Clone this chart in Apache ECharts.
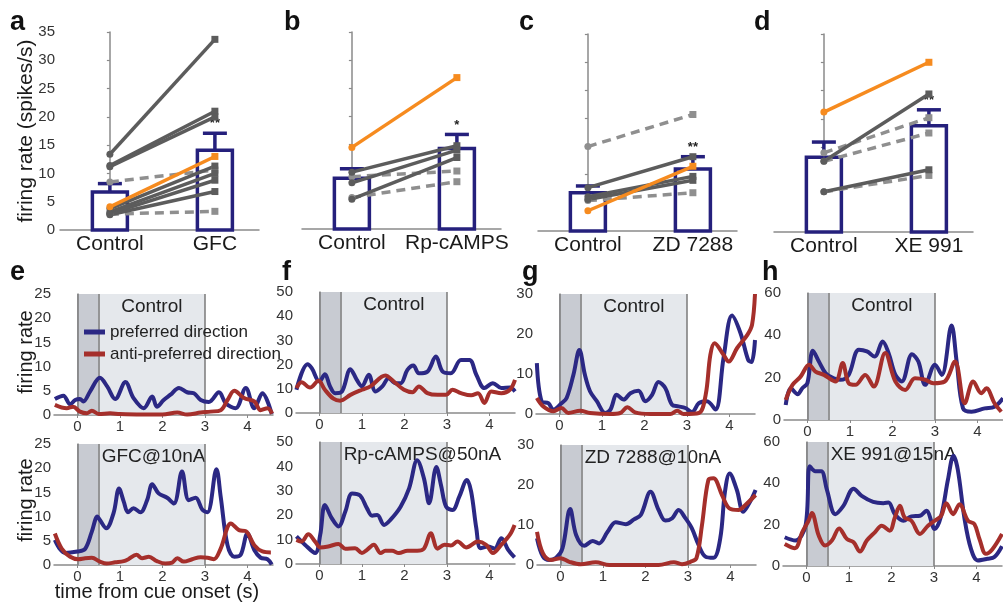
<!DOCTYPE html>
<html><head><meta charset="utf-8">
<script src="https://cdn.jsdelivr.net/npm/echarts@6/dist/echarts.min.js"></script>
<style>html,body{margin:0;padding:0;background:#fff}#c{width:1003px;height:603px}</style>
</head><body><div id="c"></div>
<script>
// ---------- DATA: panels a-d (firing rate, spikes/s) ----------
const barCategories = [['Control','GFC'],['Control','Rp-cAMPS'],['Control','ZD 7288'],['Control','XE 991']];
const barMeans = [[6.7,14.1],[9.0,14.3],[6.8,11.0],[13.2,18.8]];
const barErrTops = [[8.2,17.1],[10.7,16.8],[8.0,13.2],[15.9,21.6]];
const barStars = ['**','*','**','**'];
const solidPairs = [
  [[13.4,33.7],[11.4,21.0],[11.2,20.0],[3.8,11.3],[3.2,10.0],[2.9,8.8],[2.7,6.8]],
  [[10.1,14.8],[8.2,14.0],[5.3,12.7]],
  [[7.7,13.2],[6.1,9.7],[5.6,9.0]],
  [[12.5,24.4],[7.1,11.0]]
];
const dashedPairs = [
  [[8.5,10.6],[2.8,3.3]],
  [[9.3,10.3],[5.6,8.4]],
  [[15.0,20.7],[5.4,6.8]],
  [[14.0,20.2],[12.5,17.5],[7.1,10.0]]
];
const orangePairs = [[4.1,13.0],[14.5,26.9],[3.6,11.5],[21.2,30.0]];

// ---------- DATA: panels e-h (time from cue onset [s], firing rate) ----------
const timeTicks = [0,1,2,3,4];
const tYMax = [25,50,30,60,25,50,30,60];
const tYStep = [5,10,10,20,5,10,10,20];
const tLabels = ['Control','Control','Control','Control','GFC@10nA','Rp-cAMPS@50nA','ZD 7288@10nA','XE 991@15nA'];

const eCtrlPref = [[-0.53,3.3],[-0.33,4.0],[-0.17,2.2],[-0.05,3.1],[0.06,3.3],[0.14,2.8],[0.3,4.9],[0.53,7.7],[0.7,5.9],[0.89,3.3],[1.13,6.8],[1.32,3.5],[1.56,1.4],[1.76,3.8],[1.87,1.7],[2.03,3.1],[2.19,4.2],[2.39,5.6],[2.58,4.7],[2.74,4.5],[2.9,3.1],[3.09,2.7],[3.33,4.7],[3.49,2.4],[3.72,1.4],[3.96,5.6],[4.16,1.4],[4.35,4.5],[4.57,0.2]];
const eCtrlAnti = [[-0.53,2.1],[-0.25,1.4],[-0.1,1.7],[0.06,0.7],[0.22,0.35],[0.34,0.9],[0.5,0.2],[0.77,0.35],[1.0,0.2],[1.5,0.1],[2.0,0.1],[2.35,0.5],[2.58,0.1],[2.9,0.5],[3.13,0.7],[3.37,1.0],[3.53,3.1],[3.69,5.0],[3.92,3.5],[4.16,2.8],[4.31,1.0],[4.47,1.4],[4.58,0.3]];
const fCtrlPref = [[-0.54,9.6],[-0.28,20.1],[-0.18,18.5],[0,13],[0.13,16],[0.25,11],[0.37,8.2],[0.53,8.9],[0.73,18.1],[0.88,13.7],[1.0,11],[1.16,15.8],[1.32,8.9],[1.48,11],[1.63,14.4],[1.79,12.3],[1.91,12.3],[2.07,17.8],[2.21,19.6],[2.34,16.4],[2.54,17.1],[2.74,23.3],[2.9,17.1],[3.09,16.4],[3.33,21.9],[3.53,21.9],[3.69,15.8],[3.88,10.3],[4.08,12.3],[4.28,10.3],[4.48,10.5],[4.6,8.9]];
const fCtrlAnti = [[-0.54,10.3],[-0.42,12.7],[-0.22,10.5],[-0.02,13.3],[0.13,9.6],[0.33,5.9],[0.49,5.1],[0.73,7.5],[1.0,9.6],[1.2,11],[1.55,15.5],[1.75,13],[1.99,9.6],[2.19,8.6],[2.34,11],[2.54,8.2],[2.78,7.5],[2.98,7.5],[3.13,9.6],[3.33,8.2],[3.57,7.3],[3.73,8.2],[3.88,4.1],[4.04,8.9],[4.28,8.2],[4.48,9.6],[4.6,13.7]];
const gCtrlPref = [[-0.53,12.7],[-0.42,3.2],[-0.26,2.7],[-0.14,1.1],[0.05,2.7],[0.17,4],[0.33,9.8],[0.47,16],[0.6,9.8],[0.72,5.7],[0.88,3.2],[1.08,0.25],[1.2,1.1],[1.35,4.8],[1.51,3.6],[1.67,5.2],[1.86,5.8],[2.02,3.2],[2.18,4.8],[2.33,8],[2.49,6.5],[2.65,2.3],[2.8,1.9],[2.96,1.5],[3.12,0.5],[3.28,2.7],[3.47,3.2],[3.67,1.1],[3.86,14],[4.06,24.6],[4.26,20.2],[4.44,13.5],[4.52,13],[4.6,18.5]];
const gCtrlAnti = [[-0.53,4],[-0.38,1.9],[-0.14,0.7],[0.05,1.5],[0.21,0.25],[0.49,0.8],[0.72,0.25],[1.2,0],[1.43,0.25],[1.6,1.7],[1.78,0.4],[2.14,0],[2.61,0],[2.77,0.8],[2.92,0],[3.28,0.25],[3.44,4.8],[3.55,14.8],[3.65,17.7],[3.86,14.8],[3.98,13.1],[4.18,16.5],[4.42,19.8],[4.53,22.3],[4.6,30]];
const hCtrlPref = [[-0.51,7.1],[-0.39,15],[-0.23,12.2],[-0.12,15],[0,17.4],[0.13,32.7],[0.27,27.6],[0.43,22.1],[0.62,19.7],[0.78,19],[0.97,21.3],[1.21,33.2],[1.4,32.4],[1.58,30],[1.77,37.1],[1.91,31.6],[2.07,21.3],[2.22,18.2],[2.46,31.1],[2.61,27.6],[2.77,16.6],[3.0,26.1],[3.16,21.3],[3.39,44.7],[3.51,27.6],[3.66,5.5],[3.86,3.9],[4.17,5.5],[4.4,6.3],[4.6,10.3]];
const hCtrlAnti = [[-0.51,9.5],[-0.35,16.6],[-0.16,20.5],[0.04,26.1],[0.19,22.9],[0.39,21.3],[0.66,18.2],[0.83,26.9],[0.97,17.4],[1.13,16.6],[1.36,21.3],[1.56,15.8],[1.83,31.6],[2.07,18.2],[2.3,14.2],[2.53,19.7],[2.77,19],[2.96,17.4],[3.23,18.2],[3.47,27.6],[3.7,7.9],[3.9,18.2],[4.09,12.6],[4.21,15],[4.4,7.9],[4.56,3.9]];

const eDrugPref = [[-0.53,5.2],[-0.41,3.3],[-0.29,2.5],[0,2.8],[0.18,3.3],[0.34,6.9],[0.47,10.0],[0.53,9.3],[0.68,7.6],[0.85,10.7],[0.98,15.8],[1.09,13.1],[1.19,10.9],[1.32,11.7],[1.48,10.9],[1.64,13.4],[1.76,16.7],[1.91,14.8],[2.11,13.9],[2.27,12.7],[2.46,19.3],[2.62,13.4],[2.78,13.9],[2.94,11.4],[3.06,10.9],[3.27,19.8],[3.37,14.1],[3.53,4.1],[3.69,1.7],[3.84,2.1],[4.0,6.5],[4.16,3.1],[4.31,1.5],[4.47,1.2],[4.57,0.1]];
const eDrugAnti = [[-0.53,6.5],[-0.37,3.4],[-0.17,1.7],[0.02,1.2],[0.18,1.4],[0.34,1.5],[0.53,0.7],[0.69,0.3],[0.89,0.55],[1.09,0.8],[1.2,1.2],[1.39,2.1],[1.52,1.4],[1.68,1.7],[1.87,0.8],[2.07,0.3],[2.23,0.5],[2.35,1.4],[2.5,0.7],[2.7,1.2],[2.9,1.6],[3.06,1.5],[3.21,1.2],[3.37,3.4],[3.61,8.6],[3.8,7.2],[3.96,7.0],[4.16,4.1],[4.35,2.8],[4.55,2.6]];
const fDrugPref = [[-0.54,11.3],[-0.34,7.9],[-0.1,4.5],[0.02,12],[0.13,24.2],[0.29,18.8],[0.45,15.4],[0.61,21.5],[0.77,28.9],[0.96,28],[1.12,22.8],[1.24,19.8],[1.36,20.1],[1.52,16],[1.67,18.1],[1.91,23.5],[2.11,31],[2.3,42.5],[2.46,35],[2.58,24.9],[2.75,39.8],[2.86,32.3],[2.98,23.5],[3.13,22.1],[3.29,27.6],[3.47,34.4],[3.57,29.6],[3.69,14.7],[3.79,6.5],[3.96,7.2],[4.12,6.3],[4.28,10.6],[4.44,5.8],[4.59,2.7]];
const fDrugAnti = [[-0.54,9.9],[-0.42,9.2],[-0.26,12.2],[-0.1,9.2],[0.02,6.8],[0.21,7.2],[0.45,8.2],[0.61,6.3],[0.84,6.5],[1.0,4.5],[1.12,5.8],[1.28,7.9],[1.44,4.5],[1.55,5.4],[1.71,5.4],[1.87,4.5],[2.07,5.4],[2.3,5.4],[2.46,6.3],[2.62,12.6],[2.78,6.3],[2.94,7.9],[3.09,7.6],[3.25,9.2],[3.45,6.8],[3.73,9.2],[3.92,7.9],[4.08,4.5],[4.28,7.9],[4.48,12],[4.59,16]];
const gDrugPref = [[-0.55,6.7],[-0.41,2.1],[-0.26,1.25],[-0.1,1.8],[0.05,4.2],[0.23,14],[0.37,7.5],[0.56,4.8],[0.76,6],[0.91,5.4],[1.11,8.3],[1.3,10.7],[1.54,10.2],[1.73,11.4],[1.89,12.5],[2.12,18.3],[2.31,13.75],[2.47,11.1],[2.63,11.7],[2.78,13.75],[2.94,11.7],[3.09,9.2],[3.25,5],[3.41,2.1],[3.6,1.8],[3.76,6.7],[3.87,18.3],[3.98,22.9],[4.15,18.75],[4.3,13.3],[4.46,15.8],[4.59,18.75]];
const gDrugAnti = [[-0.55,8.3],[-0.41,2.9],[-0.22,1.25],[0,1.7],[0.21,0.8],[0.48,0.2],[0.83,0.7],[1.15,0],[2.31,0],[2.67,0.7],[2.86,0.2],[3.06,0.8],[3.2,1.7],[3.33,10],[3.48,21.25],[3.6,21.7],[3.8,17.5],[3.97,14.2],[4.19,13.75],[4.35,15],[4.59,17.5]];
const hDrugPref = [[-0.51,13.9],[-0.26,12.3],[-0.02,19.5],[0.08,48.3],[0.21,45.9],[0.35,45.9],[0.48,37.1],[0.68,25.1],[0.87,29.1],[1.11,37.4],[1.3,33.9],[1.57,31],[1.81,30.4],[1.93,30.7],[2.08,25.1],[2.28,21.9],[2.47,24],[2.67,24.3],[2.82,26.7],[3.02,17.9],[3.17,24.3],[3.33,41.9],[3.46,53.4],[3.56,46.7],[3.72,22.7],[3.87,8.3],[4.03,2.7],[4.26,3.5],[4.42,4.3],[4.6,9.6]];
const hDrugAnti = [[-0.51,10.7],[-0.27,8.6],[-0.1,16.3],[0.05,21.9],[0.13,25.6],[0.29,14.7],[0.44,9.9],[0.6,12.3],[0.77,18.2],[0.95,13.1],[1.11,11.5],[1.26,7],[1.42,12.3],[1.61,16.3],[1.77,19.5],[1.96,17.1],[2.08,23.5],[2.2,29.1],[2.31,23.5],[2.47,21.9],[2.67,15.5],[2.86,19.5],[3.02,21.9],[3.17,24.3],[3.29,30.4],[3.45,25.1],[3.6,29.9],[3.8,21.9],[3.95,20.3],[4.07,13.1],[4.22,5.9],[4.37,8],[4.6,15.5]];

const prefCurves = [eCtrlPref,fCtrlPref,gCtrlPref,hCtrlPref,eDrugPref,fDrugPref,gDrugPref,hDrugPref];
const antiCurves = [eCtrlAnti,fCtrlAnti,gCtrlAnti,hCtrlAnti,eDrugAnti,fDrugAnti,gDrugAnti,hDrugAnti];

// ---------- STYLE / LAYOUT ----------
const FONT = '"Liberation Sans", Arial, sans-serif';
const NAVY = '#25207c', BLUE = '#2b2884', RED = '#a52f2b';
const GSOLID = '#5c5c5c', GDASH = '#8f8f8f', ORANGE = '#f68b1f';
const AXIS = '#8a8a8a', DARK_BAND = '#c8cbd2', LIGHT_BAND = '#e5e8ec', VLINE = '#7a7a7a';
const topLayout = [
  {left:60, top:32, width:199, height:198},
  {left:302, top:32, width:199, height:197},
  {left:538, top:34, width:199, height:197},
  {left:774, top:34, width:199, height:198}
];
const tLayout = [
  {left:54, top:294, height:121},
  {left:296, top:292, height:121},
  {left:536, top:294, height:120},
  {left:784, top:293, height:127},
  {left:54, top:444, height:121},
  {left:296, top:442, height:122},
  {left:537, top:445, height:120},
  {left:783, top:442, height:124}
];

const grids = [], xAxes = [], yAxes = [], series = [];

topLayout.forEach((L, i) => {
  grids.push({left:L.left, top:L.top, width:L.width, height:L.height, outerBoundsMode:'none'});
  xAxes.push({type:'value', gridIndex:i, min:-0.475, max:1.42,
    axisLine:{show:true, onZero:false, lineStyle:{color:AXIS, width:1.5}},
    axisTick:{show:false}, splitLine:{show:false},
    axisLabel:{customValues:[0,1], formatter:v => barCategories[i][Math.round(v)], fontSize:21, color:'#1a1a1a', margin:4, fontFamily:FONT}});
  yAxes.push({type:'value', gridIndex:i, min:0, max:35, interval:5,
    axisLine:{show:true, lineStyle:{color:AXIS, width:1.5}},
    axisTick:{show:true, length:3, lineStyle:{color:AXIS, width:1.2}}, splitLine:{show:false},
    axisLabel:{show:i === 0, fontSize:15, color:'#333', margin:5, fontFamily:FONT}});
  const star = barStars[i];
  series.push({type:'custom', xAxisIndex:i, yAxisIndex:i, z:2, silent:true,
    data: barMeans[i].map((m, k) => [k, m, barErrTops[i][k]]),
    renderItem: (params, api) => {
      const x = api.value(0), m = api.value(1), e = api.value(2);
      const p0 = api.coord([x, 0]), pm = api.coord([x, m]), pe = api.coord([x, e]);
      const w = 35;
      const ch = [
        {type:'rect', shape:{x:pm[0]-w/2, y:pm[1], width:w, height:p0[1]-pm[1]}, style:{fill:'#fff', stroke:NAVY, lineWidth:3.5}},
        {type:'line', shape:{x1:pm[0], y1:pm[1], x2:pe[0], y2:pe[1]}, style:{stroke:NAVY, lineWidth:3.5}},
        {type:'line', shape:{x1:pe[0]-12, y1:pe[1], x2:pe[0]+12, y2:pe[1]}, style:{stroke:NAVY, lineWidth:3.5}}
      ];
      if (params.dataIndex === 1) {
        ch.push({type:'text', style:{text:star, x:pe[0], y:pe[1]-3, align:'center', verticalAlign:'bottom', textAlign:'center', textVerticalAlign:'bottom', font:'bold 13px ' + FONT, fill:'#222'}});
      }
      return {type:'group', children:ch};
    }});
  const pairSeries = (pair, color, dashed) => ({
    type:'line', xAxisIndex:i, yAxisIndex:i, z:3, silent:true, color:color,
    symbolSize:7, showSymbol:true,
    lineStyle:{color:color, width:3.5, type: dashed ? [9,6] : 'solid'},
    itemStyle:{color:color},
    data:[{value:[0, pair[0]], symbol:'circle'}, {value:[1, pair[1]], symbol:'rect'}]
  });
  dashedPairs[i].forEach(p => series.push(pairSeries(p, GDASH, true)));
  solidPairs[i].forEach(p => series.push(pairSeries(p, GSOLID, false)));
  series.push(pairSeries(orangePairs[i], ORANGE, false));
});

tLayout.forEach((L, j) => {
  const k = 4 + j;
  grids.push({left:L.left, top:L.top, width:219, height:L.height, outerBoundsMode:'none'});
  xAxes.push({type:'value', gridIndex:k, min:-0.55, max:4.6,
    axisLine:{show:true, onZero:false, lineStyle:{color:AXIS, width:1.5}},
    axisTick:{show:true, customValues:timeTicks, length:3, lineStyle:{color:AXIS}},
    splitLine:{show:false},
    axisLabel:{customValues:timeTicks, fontSize:15, color:'#333', margin:4, fontFamily:FONT}});
  yAxes.push({type:'value', gridIndex:k, min:0, max:tYMax[j], interval:tYStep[j],
    axisLine:{show:true, lineStyle:{color:AXIS, width:1.5}},
    axisTick:{show:false}, splitLine:{show:false},
    axisLabel:{fontSize:15, color:'#333', margin:3, fontFamily:FONT}});
  const isTop = j < 4;
  series.push({type:'line', xAxisIndex:k, yAxisIndex:k, z:1, silent:true, data:[[0,0]], showSymbol:false,
    lineStyle:{width:0, opacity:0},
    markArea:{silent:true, z:1, data:[
      [{xAxis:0, itemStyle:{color:DARK_BAND}}, {xAxis:0.5}],
      [{xAxis:0.5, name:tLabels[j], itemStyle:{color:LIGHT_BAND},
        label:{show:true, position: isTop ? 'insideTop' : 'insideTopLeft', distance:3, fontSize:19, color:'#222', fontFamily:FONT}}, {xAxis:3}]
    ]},
    markLine:{silent:true, z:2, symbol:'none', label:{show:false}, lineStyle:{color:VLINE, width:1.5, type:'solid'},
      data:[{xAxis:0},{xAxis:0.5},{xAxis:3}]}
  });
  series.push({type:'line', name:'preferred direction', xAxisIndex:k, yAxisIndex:k, z:3, silent:true,
    color:BLUE, smooth:0.35, showSymbol:false, symbol:'none',
    lineStyle:{color:BLUE, width:4}, itemStyle:{color:BLUE}, data:prefCurves[j]});
  series.push({type:'line', name:'anti-preferred direction', xAxisIndex:k, yAxisIndex:k, z:4, silent:true,
    color:RED, smooth:0.35, showSymbol:false, symbol:'none',
    lineStyle:{color:RED, width:4}, itemStyle:{color:RED}, data:antiCurves[j]});
});

const txt = (t, x, y, font, opts) => Object.assign({type:'text', x:x, y:y, silent:true, z:100,
  style:{text:t, font:font, fill:'#111', align:'left', verticalAlign:'middle', textAlign:'left', textVerticalAlign:'middle'}}, opts || {});
const vtxt = (t, x, y, size) => ({type:'text', x:x, y:y, rotation:Math.PI/2, silent:true, z:100,
  style:{text:t, font:size + 'px ' + FONT, fill:'#1a1a1a', align:'center', verticalAlign:'middle', textAlign:'center', textVerticalAlign:'middle'}});

const graphic = [
  txt('a', 10, 23, 'bold 27px ' + FONT),
  txt('b', 284, 23, 'bold 27px ' + FONT),
  txt('c', 519, 23, 'bold 27px ' + FONT),
  txt('d', 754, 23, 'bold 27px ' + FONT),
  txt('e', 10, 273, 'bold 27px ' + FONT),
  txt('f', 282, 273, 'bold 27px ' + FONT),
  txt('g', 522, 273, 'bold 27px ' + FONT),
  txt('h', 762, 273, 'bold 27px ' + FONT),
  vtxt('firing rate (spikes/s)', 26, 131, 21),
  vtxt('firing rate', 26, 352, 20),
  vtxt('firing rate', 26, 500, 20),
  {type:'text', x:157, y:592, silent:true, z:100,
   style:{text:'time from cue onset (s)', font:'20px ' + FONT, fill:'#1a1a1a', align:'center', verticalAlign:'middle', textAlign:'center', textVerticalAlign:'middle'}}
];

const chart = echarts.init(document.getElementById('c'), null, {renderer:'canvas'});
chart.setOption({
  animation:false,
  backgroundColor:'#fff',
  textStyle:{fontFamily:FONT},
  grid:grids, xAxis:xAxes, yAxis:yAxes, series:series,
  legend:{data:['preferred direction','anti-preferred direction'], selectedMode:false,
    left:79, top:317, orient:'vertical', icon:'rect', itemWidth:21, itemHeight:5, itemGap:2,
    textStyle:{fontSize:17, color:'#222', lineHeight:20, fontFamily:FONT}},
  graphic:graphic
});
</script></body></html>
